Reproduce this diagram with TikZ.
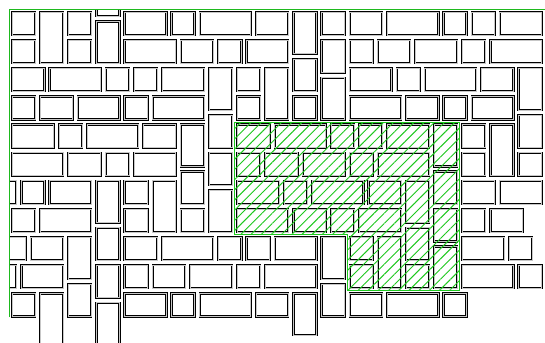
\documentclass[tikz,border=0pt]{standalone}
\usetikzlibrary{patterns.meta}
\definecolor{hgreen}{RGB}{30,200,30}
\definecolor{fgreen}{RGB}{30,185,30}
\begin{document}
\begin{tikzpicture}[x=9.38pt,y=-9.38pt,
  brick/.style={draw=black,line width=0.7pt,double=black!22,double distance=0.8pt,fill=white},
  hatchzone/.style={pattern={Lines[angle=45,distance=7.2pt,line width=0.95pt]},pattern color=hgreen},
  zoneline/.style={draw=hgreen,line width=1.1pt},
  frameline/.style={draw=fgreen,line width=1.3pt}]
\useasboundingbox (-1.013,-1.013) rectangle (57.09,35.55);
\begin{scope}
\clip (0,0) rectangle (60,40);
\foreach \x/\y/\w/\h in {
 0/0/3/3, 3/0/3/6, 6/0/3/3, 9/-2/3/3, 9/1/3/5, 12/0/5/3, 17/0/3/3, 20/0/6/3, 26/0/4/3, 30/0/3/5, 33/0/3/3, 36/0/4/3, 40/0/6/3, 46/0/3/3, 49/0/3/3, 52/0/5/3,
 0/3/3/3, 6/3/3/3, 12/3/6/3, 18/3/4/3, 22/3/3/3, 25/3/5/3, 33/3/3/4, 36/3/3/3, 39/3/4/3, 43/3/5/3, 48/3/3/3, 51/3/6/3,
 0/6/4/3, 4/6/6/3, 10/6/3/3, 13/6/3/3, 16/6/5/3, 21/6/3/5, 24/6/3/3, 27/6/3/6, 30/5/3/4, 33/7/3/5, 36/6/5/3, 41/6/3/3, 44/6/6/3, 50/6/4/3, 54/6/3/5,
 0/9/3/3, 3/9/4/3, 7/9/5/3, 12/9/3/3, 15/9/6/3, 24/9/3/3, 30/9/3/3, 36/9/6/3, 42/9/4/3, 46/9/3/3, 49/9/5/3,
 0/12/5/3, 5/12/3/3, 8/12/6/3, 14/12/4/3, 18/12/3/5, 21/11/3/4, 24/12/4/3, 28/12/6/3, 34/12/3/3, 37/12/3/3, 40/12/5/3, 45/12/3/5, 48/12/3/3, 51/12/3/6, 54/11/3/4,
 0/15/6/3, 6/15/4/3, 10/15/3/3, 13/15/5/3, 21/15/3/4, 24/15/3/3, 27/15/4/3, 31/15/5/3, 36/15/3/3, 39/15/6/3, 48/15/3/3, 54/15/3/3,
 -2/18/3/3, 1/18/3/3, 4/18/5/3, 9/18/3/5, 12/18/3/3, 15/18/3/6, 18/17/3/4, 24/18/5/3, 29/18/3/3, 32/18/6/3, 38/18/4/3, 42/18/3/5, 45/17/3/4, 48/18/4/3, 52/18/5/3,
 0/21/3/3, 3/21/6/3, 12/21/3/3, 18/21/3/3, 21/19/3/5, 24/21/6/3, 30/21/4/3, 34/21/3/3, 37/21/5/3, 45/21/3/4, 48/21/3/3, 51/21/4/3,
 -1/24/3/3, 2/24/4/3, 6/24/3/5, 9/23/3/4, 12/24/4/3, 16/24/6/3, 22/24/3/3, 25/24/3/3, 28/24/5/3, 33/24/3/5, 36/24/3/3, 39/24/3/6, 42/23/3/4, 45/25/3/5, 48/24/5/3, 53/24/3/3,
 -2/27/3/3, 1/27/5/3, 6/29/3/4, 9/27/3/4, 12/27/3/3, 15/27/4/3, 19/27/5/3, 24/27/3/3, 27/27/6/3, 33/29/3/4, 36/27/3/3, 42/27/3/3, 48/27/6/3, 54/27/3/3,
 0/30/3/3, 3/30/3/7, 9/31/3/6, 12/30/5/3, 17/30/3/3, 20/30/6/3, 26/30/4/3, 30/30/3/5, 36/30/4/3, 40/30/6/3, 46/30/3/3}
 \draw[brick] (\x+0.27,\y+0.27) rectangle (\x+\w-0.27,\y+\h-0.27);
\end{scope}
\path[hatchzone] (24,12) -- (48,12) -- (48,30) -- (36,30) -- (36,24) -- (24,24) -- cycle;
\draw[zoneline] (24,12) -- (48,12) -- (48,30) -- (36,30) -- (36,24) -- (24,24) -- cycle;
\draw[frameline] (0,32.8) -- (0,0) -- (57.09,0);
\end{tikzpicture}
\end{document}
